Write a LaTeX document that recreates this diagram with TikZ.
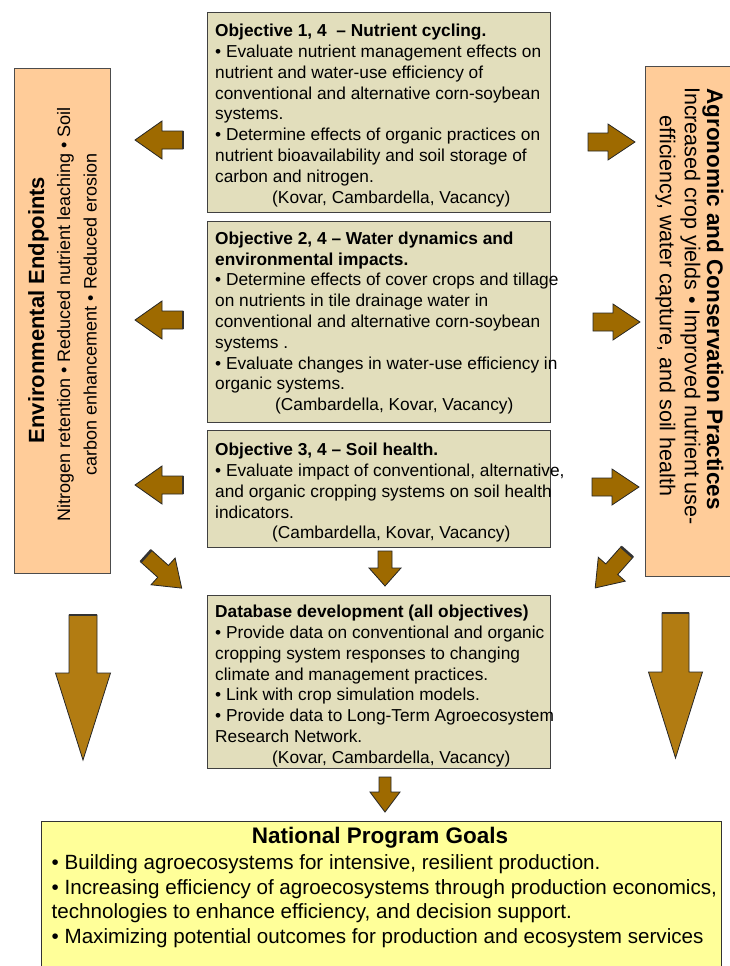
\documentclass[tikz,border=0pt]{standalone}
\usepackage{fontspec}
\setmainfont{Liberation Sans}
\usetikzlibrary{positioning}
\definecolor{tanfill}{RGB}{226,222,188}
\definecolor{sidefill}{RGB}{255,204,153}
\definecolor{goalfill}{RGB}{255,255,153}
\definecolor{arrowbrown}{RGB}{158,106,0}
\definecolor{bigbrown}{RGB}{178,124,18}
\tikzset{
  arrowbody/.style={fill=arrowbrown,draw=black!85,line width=0.8pt,line join=miter},
  tailedge/.style={draw=none},
  % block arrow: length, head length, half body, half head
  pics/blockarrow/.style n args={4}{code={
    \draw[arrowbody] (0,-#3) -- (#1-#2,-#3) -- (#1-#2,-#4) -- (#1,0)
      -- (#1-#2,#4) -- (#1-#2,#3) -- (0,#3) -- cycle;
    \draw[tailedge] (0,-#3) -- (0,#3);
  }},
  shade/.style={tailedge/.style={draw=black!80,line width=2.6pt}}
}
\begin{document}
\begin{tikzpicture}[x=1pt,y=-1pt,
  tanbox/.style={draw=black!75,line width=1.1pt,fill=tanfill,anchor=north west,inner sep=0pt,minimum width=343pt},
  sidebox/.style={draw=black!70,line width=1.1pt,fill=sidefill,anchor=north west,inner sep=0pt},
  objtext/.style={anchor=north west,inner sep=0pt,align=left,font=\fontsize{17.3}{20.8}\selectfont},
  sidetitle/.style={inner sep=0pt,font=\fontsize{22}{26}\selectfont\bfseries},
  sidetext/.style={inner sep=0pt,align=center,font=\fontsize{18}{26.5}\selectfont}]
\useasboundingbox (0,0) rectangle (729,966);

% objective boxes
\node (obj1) [tanbox,minimum height=200pt] at (207,12) {};
\node (obj2) [tanbox,minimum height=201pt] at (207,221) {};
\node (obj3) [tanbox,minimum height=117pt] at (207,430) {};
\node (dbase) [tanbox,minimum height=173pt] at (207,595) {};

\node (obj1txt) [objtext,below right=12pt and 8pt of obj1.north west]
  {\textbf{Objective 1, 4\ \ – Nutrient cycling.}\\
   • Evaluate nutrient management effects on\\
   nutrient and water-use efficiency of\\
   conventional and alternative corn-soybean\\
   systems.\\
   • Determine effects of organic practices on\\
   nutrient bioavailability and soil storage of\\
   carbon and nitrogen.\\
   \hspace*{57pt}(Kovar, Cambardella, Vacancy)};
\node (obj2txt) [objtext,below right=10.5pt and 8pt of obj2.north west]
  {\textbf{Objective 2, 4 – Water dynamics and}\\
   \textbf{environmental impacts.}\\
   • Determine effects of cover crops and tillage\\
   on nutrients in tile drainage water in\\
   conventional and alternative corn-soybean\\
   systems .\\
   • Evaluate changes in water-use efficiency in\\
   organic systems.\\
   \hspace*{60pt}(Cambardella, Kovar, Vacancy)};
\node (obj3txt) [objtext,below right=13pt and 8pt of obj3.north west]
  {\textbf{Objective 3, 4 – Soil health.}\\
   • Evaluate impact of conventional, alternative,\\
   and organic cropping systems on soil health\\
   indicators.\\
   \hspace*{57pt}(Cambardella, Kovar, Vacancy)};
\node (dbtxt) [objtext,below right=10pt and 8pt of dbase.north west]
  {\textbf{Database development (all objectives)}\\
   • Provide data on conventional and organic\\
   cropping system responses to changing\\
   climate and management practices.\\
   • Link with crop simulation models.\\
   • Provide data to Long-Term Agroecosystem\\
   Research Network.\\
   \hspace*{57pt}(Kovar, Cambardella, Vacancy)};

% side boxes
\node (envbox) [sidebox,minimum width=96pt,minimum height=505pt] at (14,68) {};
\node (envtitle) [sidetitle,rotate=90] at (38.5,310) {Environmental Endpoints};
\node (envtxt) [sidetext,rotate=90] at (77,314.5)
  {Nitrogen retention • Reduced nutrient leaching • Soil\\
   carbon enhancement • Reduced erosion};
\node (agrobox) [sidebox,minimum width=100pt,minimum height=510pt] at (645,66) {};
\node (agrotitle) [sidetitle,rotate=-90,font=\fontsize{22.5}{26}\selectfont\bfseries] at (713,299) {Agronomic and Conservation Practices};
\node (agrotxt) [sidetext,rotate=-90,font=\fontsize{21.5}{25}\selectfont] at (678,306)
  {Increased crop yields • Improved nutrient use-\\
   efficiency, water capture, and soil health};

% goals
\node (goalbox) [draw=black!80,line width=1.1pt,fill=goalfill,anchor=north west,inner sep=0pt,
  minimum width=680pt,minimum height=170pt] at (40.5,821) {};
\node (goaltitle) [anchor=base,inner sep=0pt,font=\fontsize{22.5}{26}\selectfont\bfseries]
  at (380,843) {National Program Goals};
\node (goaltxt) [anchor=north west,inner sep=0pt,align=left,font=\fontsize{20.6}{24.5}\selectfont]
  at (51.5,854.5)
  {• Building agroecosystems for intensive, resilient production.\\
   • Increasing efficiency of agroecosystems through production economics,\\
   technologies to enhance efficiency, and decision support.\\
   • Maximizing potential outcomes for production and ecosystem services};

% arrows
\foreach \y in {140,320,485}
  \pic[rotate=180,shade] at (183,\y) {blockarrow={48}{27}{9}{19}};
\foreach \x/\y in {588/142,593/322,592/487}
  \pic at (\x,\y) {blockarrow={47}{27}{9}{18}};
\pic[rotate=-42,shade] at (146,556) {blockarrow={48}{25}{8}{18}};
\pic[rotate=-131.5,shade] at (627,552) {blockarrow={48}{25}{8}{18}};
\pic[rotate=-90] at (385,551) {blockarrow={35}{18}{7}{16}};
\pic[rotate=-90] at (385,777) {blockarrow={35}{20}{6}{15}};
\pic[rotate=-90,shade,arrowbody/.append style={fill=bigbrown}] at (83,615) {blockarrow={145}{87}{14}{27.5}};
\pic[rotate=-90,shade,arrowbody/.append style={fill=bigbrown}] at (675.5,613) {blockarrow={145}{86}{13.5}{27}};
\end{tikzpicture}
\end{document}
